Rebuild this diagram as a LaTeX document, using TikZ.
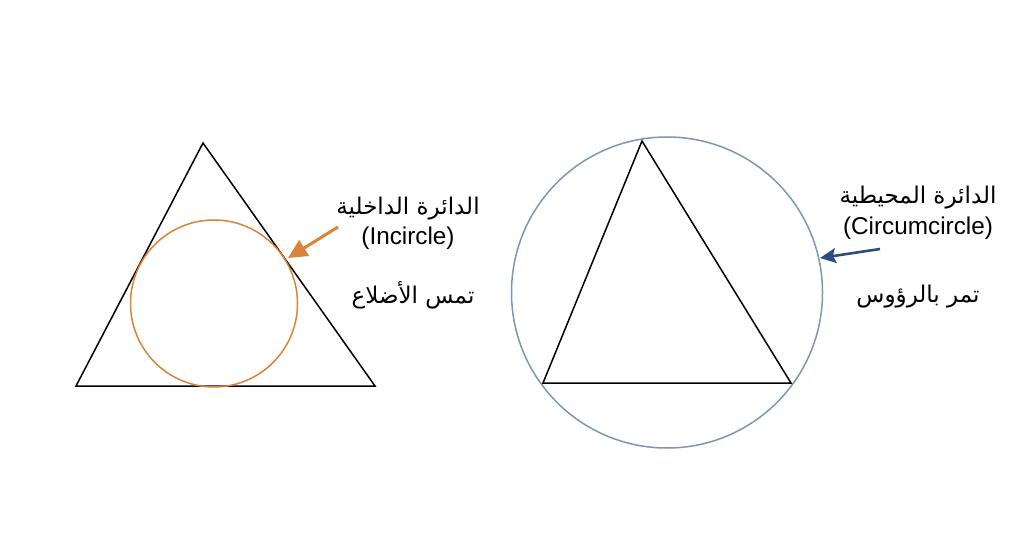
\documentclass[tikz,border=0pt]{standalone}
\usepackage{fontspec}
\setmainfont{Liberation Sans}
\newfontfamily\arabicfont[Script=Arabic]{DejaVu Sans}
\TeXXeTstate=1
\usetikzlibrary{arrows.meta}
\definecolor{incol}{HTML}{D9843A}
\definecolor{circol}{HTML}{7E96B2}
\definecolor{arrblue}{HTML}{2C4D7F}
\begin{document}
\begin{tikzpicture}[x=1pt,y=-1pt,
  tri/.style={draw=black,line width=1.5pt,line join=miter},
  ar/.style={font=\arabicfont\fontsize{23}{26}\selectfont,inner sep=0pt,anchor=center},
  la/.style={font=\fontsize{24.3}{27}\selectfont,inner sep=0pt,anchor=center}]
\useasboundingbox[fill=white] (0,0) rectangle (1024,559);
% left triangle and incircle
\coordinate (A1) at (203,143);
\coordinate (B1) at (76,386);
\coordinate (C1) at (375,386);
\draw[tri] (A1) -- (B1) -- (C1) -- cycle;
\node[circle,draw=incol,line width=1.5pt,minimum size=167pt,inner sep=0pt] (inc) at (214,303.5) {};
% right triangle and circumcircle
\node[circle,draw=circol,line width=1.5pt,minimum size=311pt,inner sep=0pt] (circ) at (667,292.5) {};
\coordinate (A2) at (642,141);
\coordinate (B2) at (543,383);
\coordinate (C2) at (791,383);
\draw[tri] (A2) -- (B2) -- (C2) -- cycle;
% labels left
\node[ar] (t1) at (408,209) {\beginR الدائرة الداخلية\endR};
\node[la] (t2) at (408,238) {(Incircle)};
\node[ar] (t3) at (413,295) {\beginR تمس الأضلاع\endR};
% labels right
\node[ar] (t4) at (918,198) {\beginR الدائرة المحيطية\endR};
\node[la] (t5) at (918,228) {(Circumcircle)};
\node[ar] (t6) at (918,297) {\beginR تمر بالرؤوس\endR};
% arrows
\coordinate (a1s) at (338,227);
\coordinate (a1e) at (288,258);
\draw[incol,line width=3pt,-{Triangle[length=19pt,width=18pt]}] (a1s) -- (a1e);
\coordinate (a2s) at (880,249);
\coordinate (a2e) at (820,258);
\draw[arrblue,line width=2.6pt,-{Stealth[length=16pt,width=15pt,inset=3pt]}] (a2s) -- (a2e);
\end{tikzpicture}
\end{document}
